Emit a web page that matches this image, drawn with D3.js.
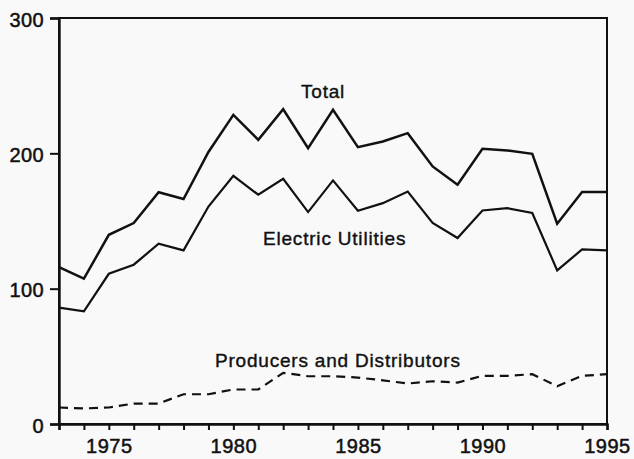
<!DOCTYPE html>
<html><head><meta charset="utf-8">
<script src="https://cdn.jsdelivr.net/npm/d3@7"></script>
<style>
html,body{margin:0;padding:0;background:#f9f9f9;}
svg{display:block;}
text{font-family:"Liberation Sans",Arial,Helvetica,sans-serif;fill:#111;}
</style></head>
<body>
<script>
const years = d3.range(1973, 1996);
const total = [116, 107.4, 139.8, 148.5, 171.3, 166.2, 201, 228.4, 210, 232.6, 203.8, 232.1, 204.6, 208.7, 214.9, 190.3, 176.8, 203.3, 202.1, 199.6, 148, 171.4, 171.4];
const electric = [86, 83.3, 111, 117.7, 133.2, 128.3, 160.7, 183.4, 169.4, 181.2, 156.6, 180, 157.6, 163.2, 171.8, 148.5, 137.4, 157.8, 159.5, 155.9, 113.5, 129, 128.3];
const producers = [12.2, 11.5, 12.2, 15.1, 15.1, 22, 22, 25.5, 25.5, 37.8, 35.3, 35.3, 34.3, 32.3, 29.9, 31.6, 30.6, 35.6, 35.6, 36.8, 27.9, 35.6, 36.8];
const yTicks = [0, 100, 200, 300];
const xTickLabels = [1975, 1980, 1985, 1990, 1995];
const seriesLabels = ["Total", "Electric Utilities", "Producers and Distributors"];

const W = 634, H = 459;
const m = {left: 59, right: 27, top: 18, bottom: 35};
const svg = d3.select("body").append("svg").attr("width", W).attr("height", H);

const x = d3.scaleLinear().domain([1973, 1995]).range([m.left, W - m.right]);
const y = d3.scaleLinear().domain([0, 300]).range([H - m.bottom, m.top]);

// frame
svg.append("rect").attr("x", x(1973)).attr("y", y(300))
  .attr("width", x(1995) - x(1973)).attr("height", y(0) - y(300))
  .attr("fill", "none").attr("stroke", "#111").attr("stroke-width", 2);

// y axis
const yAxis = svg.append("g").attr("transform", `translate(${x(1973)},0)`)
  .call(d3.axisLeft(y).tickValues(yTicks).tickSize(9).tickPadding(6).tickFormat(d3.format("d")));
yAxis.select(".domain").attr("stroke", "#111").attr("stroke-width", 2.4);
yAxis.selectAll(".tick line").attr("stroke", "#111").attr("stroke-width", 2);
yAxis.selectAll("text").attr("font-size", 20).attr("dy", "0.4em").attr("letter-spacing", "0.4px")
  .attr("stroke", "#111").attr("stroke-width", 0.5).style("fill", "#111");

// x axis
const xAxis = svg.append("g").attr("transform", `translate(0,${y(0)})`)
  .call(d3.axisBottom(x).tickValues(years).tickSize(6).tickPadding(8)
    .tickFormat(d => xTickLabels.includes(d) ? String(d) : ""));
xAxis.select(".domain").attr("stroke", "#111").attr("stroke-width", 2.4);
xAxis.selectAll(".tick line").attr("stroke", "#111").attr("stroke-width", 2);
xAxis.selectAll("text").attr("font-size", 20).attr("dy", "0.75em").attr("letter-spacing", "0.5px")
  .attr("stroke", "#111").attr("stroke-width", 0.5).style("fill", "#111");

const line = d3.line().x((d, i) => x(years[i])).y(d => y(d));

svg.append("path").datum(total).attr("d", line)
  .attr("fill", "none").attr("stroke", "#111").attr("stroke-width", 2.5).attr("stroke-linejoin", "miter");
svg.append("path").datum(electric).attr("d", line)
  .attr("fill", "none").attr("stroke", "#111").attr("stroke-width", 2.2).attr("stroke-linejoin", "miter");
svg.append("path").datum(producers).attr("d", line)
  .attr("fill", "none").attr("stroke", "#111").attr("stroke-width", 2.2).attr("stroke-dasharray", "9,6");

// labels
const lab = [
  {t: seriesLabels[0], x: 301, y: 98},
  {t: seriesLabels[1], x: 263, y: 245},
  {t: seriesLabels[2], x: 215, y: 367}
];
svg.selectAll("text.lab").data(lab).enter().append("text").attr("class", "lab")
  .attr("x", d => d.x).attr("y", d => d.y).text(d => d.t)
  .attr("font-size", 19).attr("letter-spacing", "0.8px")
  .attr("stroke", "#111").attr("stroke-width", 0.4);
</script>
</body></html>
